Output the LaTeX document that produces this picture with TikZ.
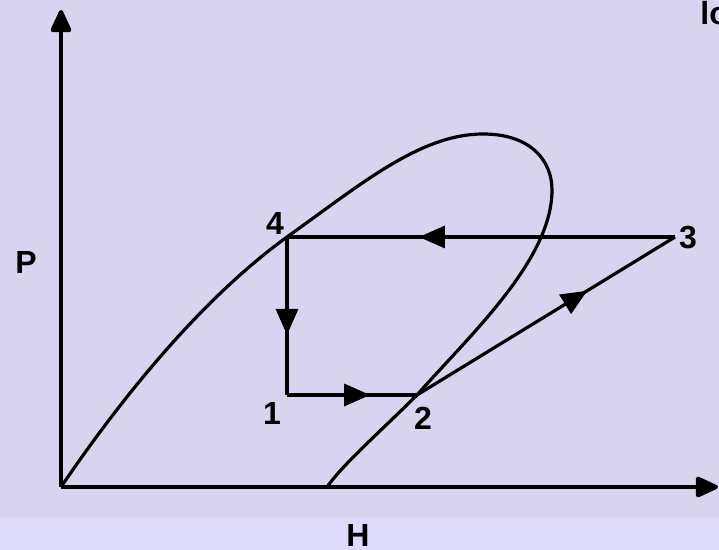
\documentclass[tikz,border=0pt]{standalone}
\usepackage{fontspec}
\setmainfont{Liberation Sans}
\usetikzlibrary{arrows.meta, decorations.markings}
\definecolor{bgmain}{HTML}{D8D4F0}
\definecolor{bgband}{HTML}{DEDAF9}
\definecolor{inkblack}{HTML}{000000}

\begin{document}
\begin{tikzpicture}[
    x=0.5pt, y=-0.5pt,
    axis/.style={line width=2pt, color=inkblack,
                 -{Triangle[length=12.5pt, width=11pt, round]}},
    dome/.style={line width=1.6pt, color=inkblack, line join=round},
    cycle/.style={line width=1.6pt, color=inkblack,
                  postaction={decorate},
                  decoration={markings, mark=at position #1 with
                    {\arrow{Triangle[length=13pt, width=11pt]}}}},
    lbl/.style={inner sep=0pt, font=\fontsize{16}{19}\selectfont\bfseries}
]
\useasboundingbox (0,0) rectangle (719,550);
\fill[bgmain] (0,0) rectangle (719,517);
\fill[bgband] (0,517) rectangle (719,550);

% axes
\coordinate (origin) at (61,487);
\coordinate (ptop)   at (61,10);
\coordinate (hend)   at (718,487);
\draw[axis] (origin) -- (ptop);
\draw[axis] (origin) -- (hend);

% states
\coordinate (s1) at (287,395);
\coordinate (s2) at (417,395);
\coordinate (s3) at (675,237);
\coordinate (s4) at (287,237);
\coordinate (dtop) at (483,134);
\coordinate (dright) at (552,190);
\coordinate (dfoot) at (327,487);

% saturation dome
\draw[dome] (origin) .. controls (120,400) and (200,300) .. (s4)
    .. controls (360,185) and (420,134) .. (dtop)
    .. controls (530,134) and (552,160) .. (dright)
    .. controls (552,260) and (470,335) .. (s2)
    .. controls (380,432) and (345,462) .. (dfoot);

% cycle
\draw[cycle=0.62] (s4) -- (s1);
\draw[cycle=0.64] (s1) -- (s2);
\draw[cycle=0.66] (s2) -- (s3);
\draw[cycle=0.66] (s3) -- (s4);

% labels
\node[lbl] (n1) at (272,413) {1};
\node[lbl] (n2) at (423,418) {2};
\node[lbl] (n3) at (688,238) {3};
\node[lbl] (n4) at (275,223) {4};
\node[lbl] (np) at (26,262)  {P};
\node[lbl] (nh) at (358,535) {H};

\begin{scope}
  \clip (0,0) rectangle (719,550);
  \node[lbl, anchor=base west] (title) at (700,25) {lo};
\end{scope}
\end{tikzpicture}
\end{document}
